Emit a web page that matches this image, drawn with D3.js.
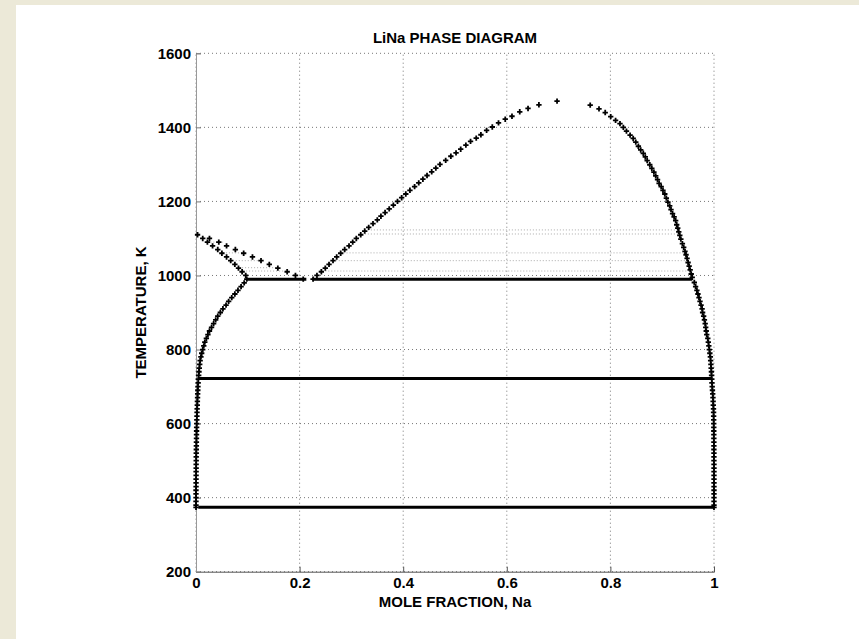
<!DOCTYPE html>
<html lang="en">
<head>
<meta charset="UTF-8">
<title>LiNa Phase Diagram</title>
<script src="https://cdn.jsdelivr.net/npm/d3@7"></script>
<style>
  body { margin: 0; padding: 0; background: #ECE9D8; }
  svg { display: block; }
  text { font-family: "Liberation Sans", Arial, sans-serif; font-weight: bold; fill: #000; }
</style>
</head>
<body>
<script>
    const xTicks = [0, 0.2, 0.4, 0.6, 0.8, 1];
    const yTicks = [200, 400, 600, 800, 1000, 1200, 1400, 1600];

    // liquidus rising from the 990 K line to the top of the dome  [x, T]
    const liquidus = [
        [0.226, 990], [0.2335, 1000], [0.242, 1010], [0.2496, 1020], [0.2568, 1030],
        [0.2645, 1040], [0.2716, 1050], [0.2793, 1060], [0.287, 1070], [0.2954, 1080],
        [0.3025, 1090], [0.3095, 1100], [0.318, 1110], [0.3257, 1120], [0.3334, 1130],
        [0.3417, 1140], [0.350, 1150], [0.357, 1160], [0.365, 1170], [0.373, 1180],
        [0.381, 1190], [0.389, 1200], [0.397, 1210], [0.405, 1220], [0.413, 1230],
        [0.422, 1240], [0.430, 1250], [0.438, 1260], [0.446, 1270], [0.455, 1280],
        [0.463, 1290], [0.471, 1300], [0.482, 1311], [0.492, 1322], [0.502, 1331],
        [0.511, 1341], [0.521, 1352], [0.530, 1362], [0.541, 1371], [0.550, 1380],
        [0.561, 1392], [0.572, 1401], [0.584, 1412], [0.597, 1422], [0.610, 1430],
        [0.625, 1442], [0.641, 1451], [0.662, 1461], [0.697, 1471]
    ];

    // Na-rich branch, from the top of the dome down to 374 K
    const naBranch = [
        [0.761, 1460], [0.778, 1450], [0.790, 1440], [0.8006, 1429], [0.810, 1419],
        [0.8185, 1410], [0.825, 1400], [0.831, 1390], [0.838, 1379], [0.844, 1370],
        [0.849, 1360], [0.854, 1349], [0.8585, 1339], [0.8635, 1330], [0.8674, 1320],
        [0.871, 1310], [0.876, 1299], [0.880, 1289], [0.884, 1279], [0.8875, 1269],
        [0.891, 1259], [0.894, 1249], [0.898, 1240], [0.9015, 1230], [0.905, 1220],
        [0.908, 1209], [0.911, 1198], [0.9145, 1188], [0.917, 1178], [0.920, 1167],
        [0.923, 1158], [0.926, 1148], [0.928, 1137], [0.930, 1128], [0.932, 1118],
        [0.934, 1108], [0.936, 1098], [0.939, 1086], [0.9415, 1076], [0.944, 1065],
        [0.946, 1056], [0.948, 1046], [0.950, 1035], [0.952, 1025], [0.954, 1015],
        [0.956, 1004], [0.958, 995], [0.962, 981], [0.9645, 970], [0.967, 960],
        [0.969, 950], [0.971, 940], [0.973, 930], [0.975, 920], [0.977, 910],
        [0.978, 900], [0.980, 890], [0.9815, 880], [0.983, 870], [0.984, 860],
        [0.985, 850], [0.986, 840], [0.988, 830], [0.989, 820], [0.990, 810],
        [0.991, 800], [0.992, 790], [0.993, 780], [0.9935, 770], [0.994, 760],
        [0.9945, 750], [0.995, 740], [0.9953, 730], [0.9956, 720], [0.996, 710],
        [0.9965, 700], [0.997, 690], [0.9975, 680], [0.998, 670], [0.9983, 660],
        [0.9986, 650], [0.999, 640], [0.9992, 630], [0.9993, 620], [0.9994, 610],
        [0.9995, 600], [0.9996, 590], [0.9996, 580], [0.9997, 570], [0.9997, 560],
        [0.9998, 550], [0.9998, 540], [0.9998, 530], [0.9999, 520], [0.9999, 510],
        [0.9999, 500], [1.0, 490], [1.0, 480], [1.0, 470], [1.0, 460], [1.0, 450],
        [1.0, 440], [1.0, 430], [1.0, 420], [1.0, 410], [1.0, 400], [1.0, 390],
        [1.0, 380], [1.0, 374]
    ];

    // Li-rich upper branch from the Li melting point to the 990 K line
    const liUpper = [
        [0.003, 1110], [0.026, 1100], [0.044, 1090], [0.059, 1080], [0.076, 1070],
        [0.092, 1060], [0.109, 1050], [0.1255, 1040], [0.1415, 1030], [0.158, 1020],
        [0.176, 1010], [0.192, 1000], [0.207, 990]
    ];

    // Li-rich lower branch, from the Li melting point down to 374 K
    const liLower = [
        [0.013, 1100], [0.022, 1090], [0.032, 1080], [0.042, 1070], [0.050, 1060],
        [0.059, 1050], [0.067, 1040], [0.075, 1030], [0.082, 1020], [0.089, 1010],
        [0.096, 1000], [0.098, 990], [0.093, 980], [0.087, 970], [0.081, 960],
        [0.075, 950], [0.069, 940], [0.063, 930], [0.058, 920], [0.052, 910],
        [0.047, 900], [0.042, 890], [0.038, 880], [0.034, 870], [0.030, 860],
        [0.026, 850], [0.023, 840], [0.020, 830], [0.017, 820], [0.015, 810],
        [0.013, 800], [0.011, 790], [0.0095, 780], [0.008, 770], [0.0072, 760],
        [0.0064, 750], [0.0058, 740], [0.0052, 730], [0.0046, 720], [0.0042, 710],
        [0.0038, 700], [0.0035, 690], [0.0032, 680], [0.003, 670], [0.0027, 660],
        [0.0025, 650], [0.0022, 640], [0.002, 630], [0.0018, 620], [0.0016, 610],
        [0.0014, 600], [0.0012, 590], [0.0011, 580], [0.001, 570], [0.0009, 560],
        [0.0008, 550], [0.0007, 540], [0.0006, 530], [0.0005, 520], [0.0004, 510],
        [0.0004, 500], [0.0003, 490], [0.0003, 480], [0.0002, 470], [0.0002, 460],
        [0.0001, 450], [0.0001, 440], [0.0001, 430], [0, 420], [0, 410],
        [0, 400], [0, 390], [0, 380], [0, 374]
    ];

    // invariant lines (thick)
    const isotherms = [
        { t: 990, x0: 0.098, x1: 0.213 },
        { t: 990, x0: 0.225, x1: 0.958 },
        { t: 722, x0: 0.0045, x1: 0.996 },
        { t: 374, x0: 0.0045, x1: 1.0 }
    ];

    // faint tie lines in the two-phase regions
    const tieLines = [
        { t: 1090, x0: 0.022, x1: 0.052 },
        { t: 1061, x0: 0.052, x1: 0.091 },
        { t: 1040, x0: 0.071, x1: 0.124 },
        { t: 1021, x0: 0.089, x1: 0.156 },
        { t: 1012, x0: 0.091, x1: 0.176 },
        { t: 1123, x0: 0.326, x1: 0.931 },
        { t: 1112, x0: 0.326, x1: 0.933 },
        { t: 1061, x0: 0.279, x1: 0.944 },
        { t: 1040, x0: 0.264, x1: 0.950 },
        { t: 1012, x0: 0.238, x1: 0.955 }
    ];

    const W = 859, H = 639;
    const plot = { left: 196, right: 714, top: 53.3, bottom: 571.7 };

    const svg = d3.select("body").append("svg")
        .attr("width", W)
        .attr("height", H);

    svg.append("rect")
        .attr("x", 16).attr("y", 5)
        .attr("width", W - 16).attr("height", H - 5)
        .attr("fill", "#fff");

    const x = d3.scaleLinear().domain([0, 1]).range([plot.left, plot.right]);
    const y = d3.scaleLinear().domain([200, 1600]).range([plot.bottom, plot.top]);

    // grid
    svg.append("g").selectAll("line")
        .data(xTicks)
        .join("line")
        .attr("x1", d => x(d)).attr("x2", d => x(d))
        .attr("y1", y(200)).attr("y2", y(1600))
        .attr("stroke", "#777")
        .attr("stroke-dasharray", "1,3");

    svg.append("g").selectAll("line")
        .data(yTicks)
        .join("line")
        .attr("x1", x(0)).attr("x2", x(1))
        .attr("y1", d => y(d)).attr("y2", d => y(d))
        .attr("stroke", "#777")
        .attr("stroke-dasharray", "1,3");

    // tie lines
    svg.append("g").selectAll("line")
        .data(tieLines)
        .join("line")
        .attr("x1", d => x(d.x0)).attr("x2", d => x(d.x1))
        .attr("y1", d => y(d.t)).attr("y2", d => y(d.t))
        .attr("stroke", "#aaa")
        .attr("stroke-dasharray", "1,2");

    // axes (MATLAB style, ticks pointing inward)
    const xAxis = svg.append("g")
        .attr("transform", `translate(0,${y(200)})`)
        .call(d3.axisBottom(x).tickValues(xTicks).tickSize(-5).tickPadding(6)
            .tickFormat(d => d === 0 || d === 1 ? d3.format("d")(d) : d3.format(".1f")(d)));
    xAxis.select(".domain").attr("stroke", "#555");
    xAxis.selectAll(".tick line").attr("stroke", "#555");
    xAxis.selectAll("text").attr("font-size", 15).attr("font-family", null);

    const yAxis = svg.append("g")
        .attr("transform", `translate(${x(0)},0)`)
        .call(d3.axisLeft(y).tickValues(yTicks).tickSize(-5).tickPadding(5).tickFormat(d3.format("d")));
    yAxis.select(".domain").attr("stroke", "#999");
    yAxis.selectAll(".tick line").attr("stroke", "#777");
    yAxis.selectAll("text").attr("font-size", 15).attr("font-family", null);

    // thick invariant lines
    svg.append("g").selectAll("line")
        .data(isotherms)
        .join("line")
        .attr("x1", d => x(d.x0)).attr("x2", d => x(d.x1))
        .attr("y1", d => y(d.t)).attr("y2", d => y(d.t))
        .attr("stroke", "#000")
        .attr("stroke-width", 3);

    // point markers
    const marker = d3.symbol().type(d3.symbolCross).size(16);
    [liquidus, naBranch, liUpper, liLower].forEach(series => {
        svg.append("g").selectAll("path")
            .data(series)
            .join("path")
            .attr("d", marker)
            .attr("transform", d => `translate(${x(d[0])},${y(d[1])})`)
            .attr("fill", "#000");
    });

    // titles
    svg.append("text")
        .attr("x", (plot.left + plot.right) / 2)
        .attr("y", 42.5)
        .attr("text-anchor", "middle")
        .attr("font-size", 15)
        .text("LiNa PHASE DIAGRAM");

    svg.append("text")
        .attr("x", (plot.left + plot.right) / 2)
        .attr("y", 607)
        .attr("text-anchor", "middle")
        .attr("font-size", 15)
        .text("MOLE FRACTION, Na");

    svg.append("text")
        .attr("transform", `translate(146,${(plot.top + plot.bottom) / 2}) rotate(-90)`)
        .attr("text-anchor", "middle")
        .attr("font-size", 15)
        .text("TEMPERATURE, K");
</script>
</body>
</html>
